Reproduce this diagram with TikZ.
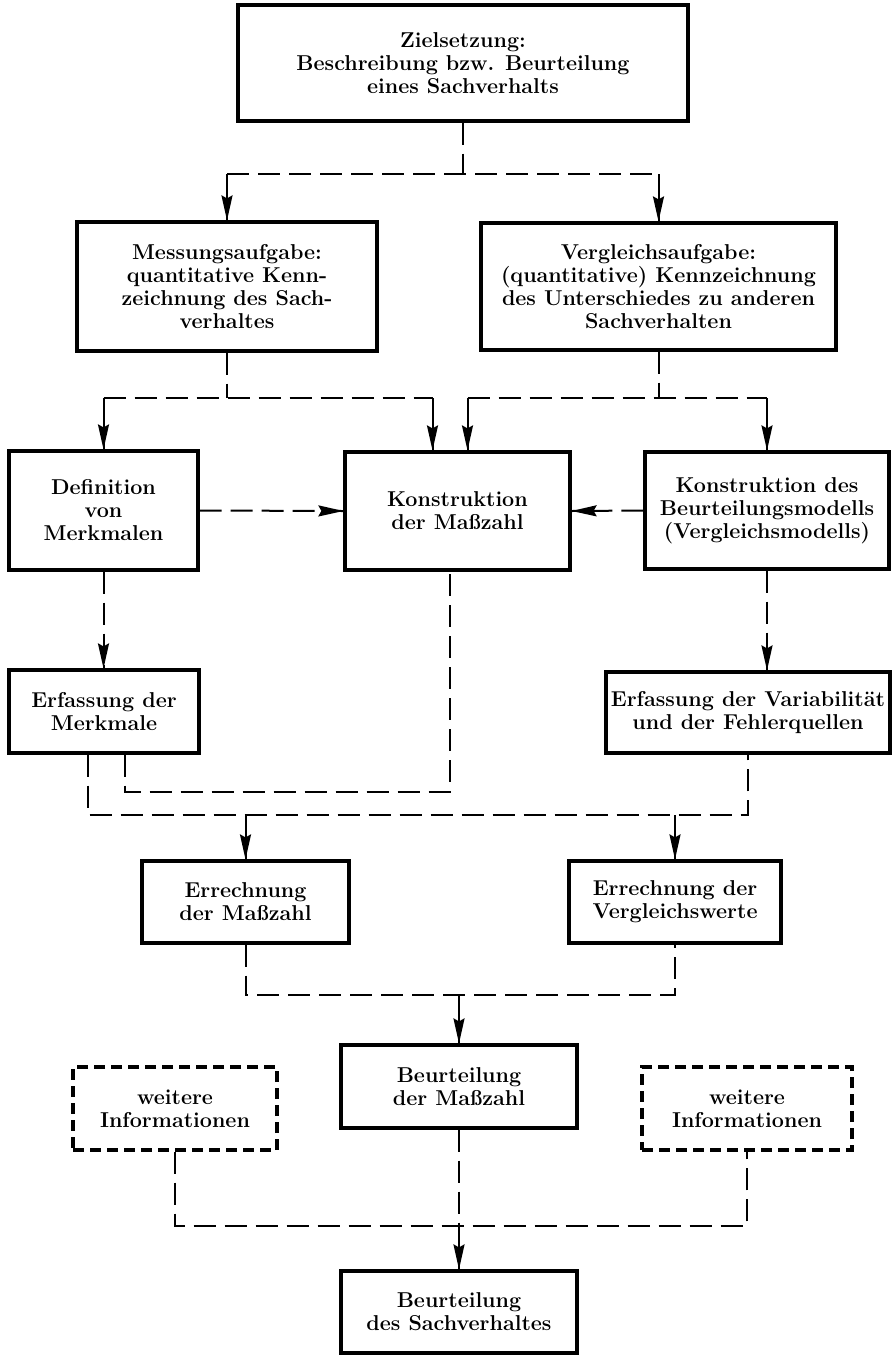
\documentclass[tikz,border=0pt]{standalone}
\usepackage{tikz}
\usetikzlibrary{arrows.meta,decorations.markings}

\begin{document}
\begin{tikzpicture}[x=1pt,y=-1pt,
    box/.style={draw,line width=3.2pt,align=center,inner sep=2pt,
        font=\fontsize{21.5}{23}\selectfont\bfseries},
    extra/.style={box,dash pattern=on 11pt off 6pt},
    strich/.style={line width=2pt,dash pattern=on 22pt off 9pt},
    pfeil/.style={line width=2pt,decoration={markings,mark=at position 1 with
        {\arrow{Stealth[length=25pt,width=11pt,inset=3pt]}}},postaction={decorate}}]
\useasboundingbox (0,0) rectangle (892,1355);

\node[box, minimum width=450pt, minimum height=116pt] (ziel) at (463,63) {Zielsetzung:\\Beschreibung bzw. Beurteilung\\eines Sachverhalts};
\node[box, minimum width=300pt, minimum height=129pt] (messung) at (227,286.5) {Messungsaufgabe:\\quantitative Kenn-\\zeichnung des Sach-\\verhaltes};
\node[box, minimum width=355pt, minimum height=127pt] (vergleich) at (658.5,286.5) {Vergleichsaufgabe:\\(quantitative) Kennzeichnung\\des Unterschiedes zu anderen\\Sachverhalten};

\node[box, minimum width=189pt, minimum height=119pt] (definition) at (103.5,510.5) {Definition\\von\\Merkmalen};
\node[box, minimum width=225pt, minimum height=118pt] (konstr) at (457.5,511) {Konstruktion\\der Maßzahl};
\node[box, minimum width=244pt, minimum height=117pt] (modell) at (767,510.5) {Konstruktion des\\Beurteilungsmodells\\(Vergleichsmodells)};

\node[box, minimum width=190pt, minimum height=83pt] (erfMerk) at (104,711.5) {Erfassung der\\Merkmale};
\node[box, minimum width=284pt, minimum height=81pt] (erfVar) at (748,712.5) {Erfassung der Variabilität\\und der Fehlerquellen};

\node[box, minimum width=207pt, minimum height=82pt] (errMass) at (245.5,902) {Errechnung\\der Maßzahl};
\node[box, minimum width=212pt, minimum height=82pt] (errVgl) at (675,902) {Errechnung der\\Vergleichswerte};

\node[box, minimum width=236pt, minimum height=83pt] (beurtMass) at (459,1086.5) {Beurteilung\\der Maßzahl};
\node[extra, minimum width=204pt, minimum height=83pt] (weiterL) at (175,1108.5) {weitere\\Informationen};
\node[extra, minimum width=210pt, minimum height=83pt] (weiterR) at (747,1108.5) {weitere\\Informationen};

\node[box, minimum width=236pt, minimum height=82pt] (beurtSach) at (459,1312) {Beurteilung\\des Sachverhaltes};

\coordinate (v1) at (0,174);
\draw[strich] (ziel.south) -- (ziel.south |- v1);
\draw[strich] (messung.north |- v1) -- (vergleich.north |- v1);
\draw[pfeil] (messung.north |- v1) -- (messung.north);
\draw[pfeil] (vergleich.north |- v1) -- (vergleich.north);

\coordinate (v2) at (0,398);
\coordinate (k1) at ([xshift=-25pt]konstr.north);
\coordinate (k2) at ([xshift=10pt]konstr.north);
\draw[strich] (messung.south) -- (messung.south |- v2);
\draw[strich] (definition.north |- v2) -- (k1 |- v2);
\draw[pfeil] (definition.north |- v2) -- (definition.north);
\draw[pfeil] (k1 |- v2) -- (k1);
\draw[strich] (vergleich.south) -- (vergleich.south |- v2);
\draw[strich] (k2 |- v2) -- (modell.north |- v2);
\draw[pfeil] (k2 |- v2) -- (k2);
\draw[pfeil] (modell.north |- v2) -- (modell.north);

\draw[strich,pfeil] (definition.east) -- (konstr.west);
\draw[strich,pfeil] (modell.west) -- (konstr.east);
\draw[strich,pfeil] (definition.south) -- (definition.south |- erfMerk.north);
\draw[strich,pfeil] (modell.south) -- (modell.south |- erfVar.north);

\coordinate (v3) at (0,792);
\coordinate (v4) at (0,815);
\coordinate (m1) at ([xshift=21pt]erfMerk.south);
\coordinate (m2) at ([xshift=-16pt]erfMerk.south);
\coordinate (k3) at ([xshift=-8pt]konstr.south);
\draw[strich] (m1) |- (k3 |- v3) -- (k3);
\draw[strich] (m2) |- (erfVar.south |- v4) -- (erfVar.south);
\draw[pfeil] (errMass.north |- v4) -- (errMass.north);
\draw[pfeil] (errVgl.north |- v4) -- (errVgl.north);

\coordinate (v5) at (0,995);
\draw[strich] (errMass.south) |- (errVgl.south |- v5) -- (errVgl.south);
\draw[pfeil] (beurtMass.north |- v5) -- (beurtMass.north);

\coordinate (v6) at (0,1226);
\draw[strich] (weiterL.south) |- (weiterR.south |- v6) -- (weiterR.south);
\draw[strich] (beurtMass.south) -- (beurtMass.south |- v6);
\draw[pfeil] (beurtSach.north |- v6) -- (beurtSach.north);
\end{tikzpicture}
\end{document}
